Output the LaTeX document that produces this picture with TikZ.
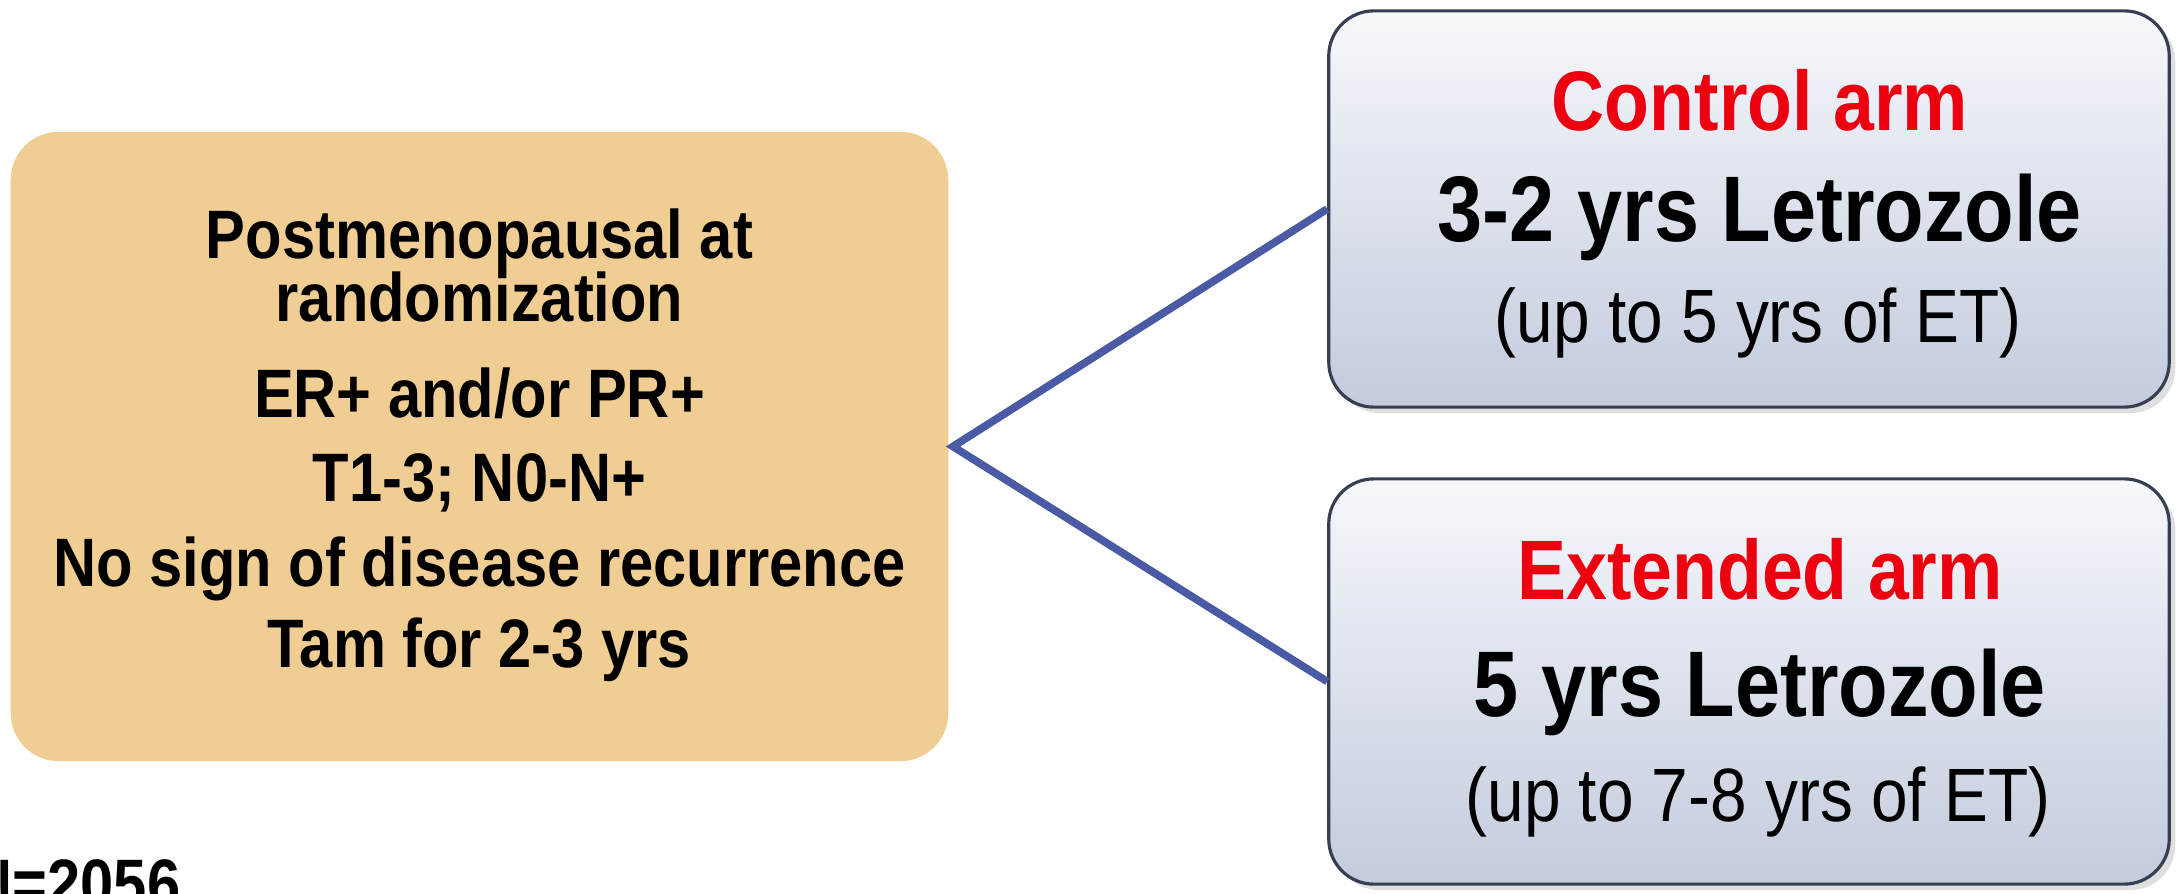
\documentclass[tikz,border=0pt]{standalone}
\usepackage{fontspec}
\setmainfont{Liberation Sans}[FakeStretch=0.87]
\usetikzlibrary{shadows}
\definecolor{tanfill}{HTML}{F0CD93}
\definecolor{linkblue}{HTML}{4B5AA5}
\definecolor{armborder}{HTML}{363E52}
\definecolor{armtop}{HTML}{F6F8FB}
\definecolor{armbottom}{HTML}{C3CBDD}
\definecolor{armred}{HTML}{EC0010}
\tikzset{
  critbox/.style={fill=tanfill, rounded corners=0.48cm, minimum width=9.37cm, minimum height=6.29cm, inner sep=0},
  armbox/.style={draw=armborder, line width=0.9pt, top color=armtop, bottom color=armbottom, rounded corners=0.45cm, minimum width=8.4cm, inner sep=0,
     drop shadow={shadow xshift=0.06cm, shadow yshift=-0.06cm, opacity=0.25}},
  crittext/.style={font=\fontsize{19.5}{23}\selectfont\bfseries, inner sep=0, anchor=center},
  armtitle/.style={font=\fontsize{24}{28}\selectfont\bfseries, text=armred, inner sep=0, anchor=center},
  armdrug/.style={font=\fontsize{26.5}{30}\selectfont\bfseries, inner sep=0, anchor=center},
  armnote/.style={font=\fontsize{21.5}{25}\selectfont, inner sep=0, anchor=center},
  link/.style={draw=linkblue, line width=2.2pt}
}
\begin{document}
\begin{tikzpicture}[x=0.01cm, y=-0.01cm]
\clip (0,0) rectangle (2177,894);
\fill[white] (0,0) rectangle (2177,894);

% left criteria box
\node[critbox] (crit) at (479.5,446.5) {};
\node[crittext] (c1) at (479.5,241) {Postmenopausal at};
\node[crittext] (c2) at (479.5,297) {randomization};
\node[crittext] (c3) at (479.5,393) {ER+ and/or PR+};
\node[crittext] (c4) at (479.5,483) {T1-3; N0-N+};
\node[crittext] (c5) at (479.5,569) {No sign of disease recurrence};
\node[crittext] (c6) at (479.5,650) {Tam for 2-3 yrs};

% arm boxes
\node[armbox, minimum height=3.96cm] (ctrl) at (1749,209) {};
\node[armbox, minimum height=4.05cm] (ext) at (1749,681.5) {};

\node[armtitle] (t1) at (1760,100) {Control arm};
\node[armdrug] (d1) at (1760,217) {3-2 yrs Letrozole};
\node[armnote] (n1) at (1758,323) {(up to 5 yrs of ET)};

\node[armtitle] (t2) at (1760,569) {Extended arm};
\node[armdrug] (d2) at (1760,692) {5 yrs Letrozole};
\node[armnote] (n2) at (1758,802) {(up to 7-8 yrs of ET)};

% connectors
\coordinate (j) at ([xshift=0.04cm]crit.east);
\draw[link, line join=miter] (ctrl.west) -- (j) -- (ext.west);

% sample size
\node[font=\fontsize{19.5}{23}\selectfont\bfseries, anchor=base west, inner sep=0] (nsize) at (-31,907) {N=2056};
\end{tikzpicture}
\end{document}
